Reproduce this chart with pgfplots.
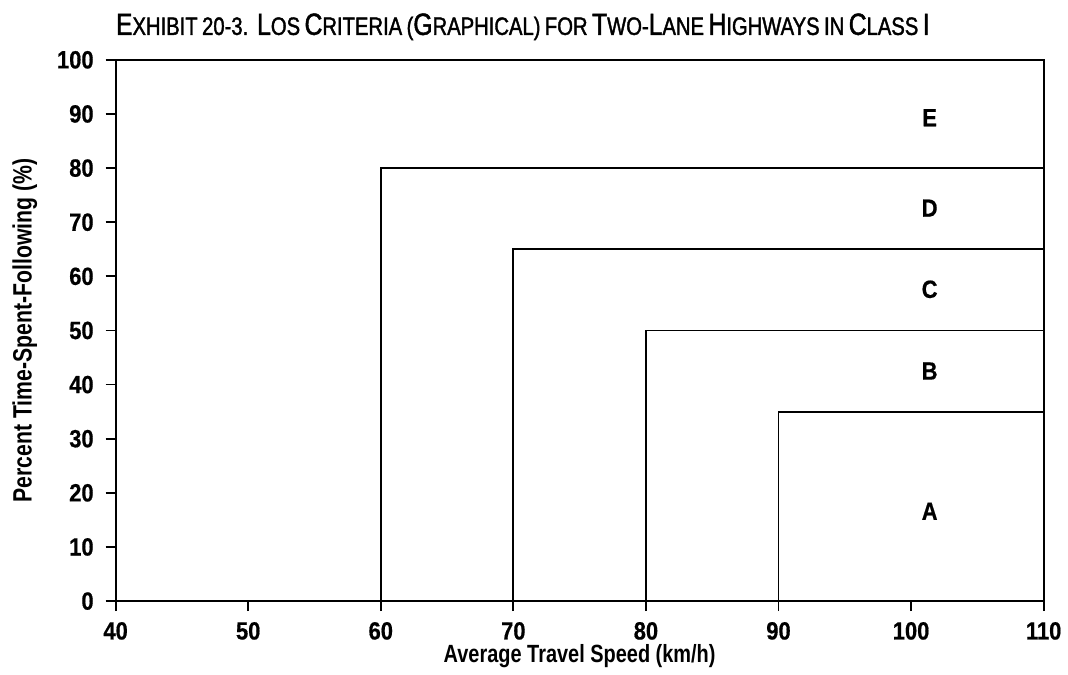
\documentclass[border=0pt]{standalone}
\usepackage{fontspec}
\setmainfont{Liberation Sans}[FakeStretch=0.8]
\newfontfamily\titlefont{Liberation Sans}[FakeStretch=0.805, FakeBold=1.5]
\newfontfamily\tickfont{Liberation Sans}[FakeStretch=0.88, FakeBold=0.6]
\usepackage{pgfplots}
\pgfplotsset{compat=1.18}
\newcommand{\tl}[2]{{\fontsize{15.4}{15.4}\selectfont #1}{\fontsize{12.6}{12.6}\selectfont #2}}
\begin{document}
\begin{tikzpicture}
\begin{axis}[
  scale only axis,
  width=465.5pt, height=271.5pt,
  xmin=40, xmax=110, ymin=0, ymax=100,
  xtick={40,50,...,110}, ytick={0,10,...,100},
  tick align=outside, xtick pos=bottom, ytick pos=left,
  major tick length=5pt,
  /pgf/number format/assume math mode=true,
  ticklabel style={font=\tickfont\fontsize{12.5}{12.5}\selectfont\bfseries},
  yticklabel style={xshift=-2.5pt},
  xticklabel style={yshift=-2pt},
  axis line style={line width=0.9pt},
  every tick/.style={line width=0.9pt, black},
  xlabel={Average Travel Speed (km/h)},
  ylabel={Percent Time-Spent-Following (\%)},
  every axis x label/.style={at={(rel axis cs:0.5,0)}, anchor=base, yshift=-31pt,
    font=\fontsize{12.5}{12.5}\selectfont\bfseries},
  every axis y label/.style={at={(rel axis cs:0,0.5)}, rotate=90, anchor=center, yshift=45.5pt,
    font=\fontsize{13.3}{13.3}\selectfont\bfseries},
  clip=false,
]
\path (rel axis cs:0,0) ++(-58pt,-34.5pt) coordinate (bbsw);
\path (rel axis cs:1,1) ++(10.5pt,30pt) coordinate (bbne);
\path[use as bounding box] (bbsw) rectangle (bbne);
\addplot[black, line width=0.9pt] coordinates {(60,0) (60,80) (110,80)};
\addplot[black, line width=0.9pt] coordinates {(70,0) (70,65) (110,65)};
\addplot[black, line width=0.9pt] coordinates {(80,0) (80,50) (110,50)};
\addplot[black, line width=0.9pt] coordinates {(90,0) (90,35) (110,35)};
\addplot[draw=none, mark=none, nodes near coords, point meta=explicit symbolic,
  every node near coord/.style={anchor=center, font=\tickfont\fontsize{12.5}{12.5}\selectfont\bfseries}]
  coordinates {(101.4,89.3)[E] (101.4,72.6)[D] (101.4,57.6)[C] (101.4,42.5)[B] (101.4,16.6)[A]};
\node[anchor=base west, inner sep=0pt] at (rel axis cs:0,1) [yshift=12.5pt]
  {\titlefont\tl{E}{XHIBIT} \tl{}{20-3.}\ \ \tl{L}{OS} \tl{C}{RITERIA} \tl{}{(}\tl{G}{RAPHICAL}\tl{}{)} \tl{}{FOR} \tl{T}{WO}\tl{}{-}\tl{L}{ANE} \tl{H}{IGHWAYS} \tl{}{IN} \tl{C}{LASS} \tl{I}{}};
\end{axis}
\end{tikzpicture}
\end{document}
